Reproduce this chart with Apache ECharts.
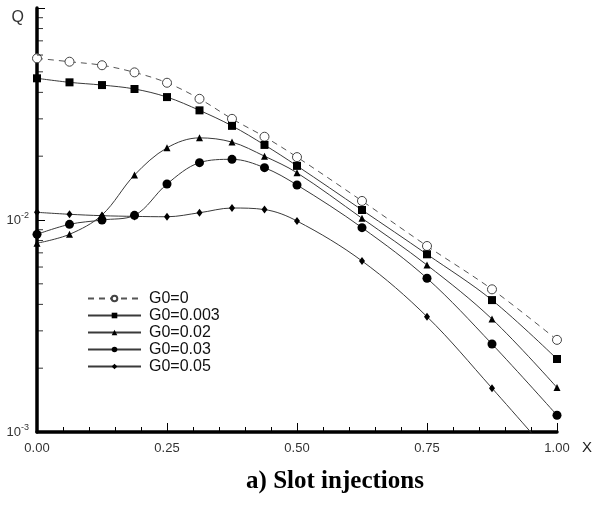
<!DOCTYPE html>
<html>
<head>
<meta charset="utf-8">
<script src="https://cdn.jsdelivr.net/npm/echarts@6/dist/echarts.min.js"></script>
<style>html,body{margin:0;padding:0;background:#fff}#c{width:595px;height:506px}</style>
</head>
<body>
<div id="c"></div>
<script>
var xValues = [0, 0.0625, 0.125, 0.1875, 0.25, 0.3125, 0.375, 0.4375, 0.5, 0.625, 0.75, 0.875, 1.0];
var seriesNames = ['G0=0', 'G0=0.003', 'G0=0.02', 'G0=0.03', 'G0=0.05'];
var qG0_0     = [0.0579, 0.0558, 0.0537, 0.0497, 0.0444, 0.0373, 0.0300, 0.0247, 0.0198, 0.0123, 0.00754, 0.00471, 0.00272];
var qG0_0003  = [0.0466, 0.0446, 0.0433, 0.0415, 0.0380, 0.0329, 0.0278, 0.0226, 0.0180, 0.01115, 0.00689, 0.00419, 0.00221];
var qG0_002   = [0.00777, 0.00856, 0.01056, 0.0163, 0.0219, 0.0244, 0.0233, 0.0200, 0.0167, 0.01019, 0.00613, 0.00341, 0.00162];
var qG0_003   = [0.00856, 0.00954, 0.0100, 0.01052, 0.01478, 0.01864, 0.01933, 0.01765, 0.01463, 0.00920, 0.00531, 0.00260, 0.00120];
var qG0_005   = [0.01087, 0.01064, 0.01048, 0.01040, 0.01036, 0.01082, 0.01139, 0.01120, 0.00989, 0.00641, 0.00350, 0.00161, 0.00072];
var xTickLabels = ['0.00', '0.25', '0.50', '0.75', '1.00'];
var yMinorTickValues = [0.002,0.003,0.004,0.005,0.006,0.007,0.008,0.009,0.02,0.03,0.04,0.05,0.06,0.07,0.08,0.09];

function pairs(ys){ return xValues.map(function(x,i){ return [x, ys[i]]; }); }

var lineColor = '#3a3a3a';
function mk(name, ys, symbol, size, extra){
  var s = {
    name: name, type: 'line', data: pairs(ys), smooth: 0.35,
    symbol: symbol, symbolSize: size, showAllSymbol: true,
    lineStyle: { color: lineColor, width: 1 },
    itemStyle: { color: '#000' },
    clip: true, z: 3
  };
  if (extra) extra(s);
  return s;
}

var series = [
  mk(seriesNames[0], qG0_0, 'circle', 9, function(s){
    s.lineStyle = { color: '#555', width: 1, type: [6,5] };
    s.itemStyle = { color: '#fff', borderColor: '#444', borderWidth: 1 };
  }),
  mk(seriesNames[1], qG0_0003, 'rect', 8),
  mk(seriesNames[2], qG0_002, 'triangle', 7),
  mk(seriesNames[3], qG0_003, 'circle', 9),
  mk(seriesNames[4], qG0_005, 'diamond', [6,8]),
  {
    name: 'minorTicks', type: 'scatter', silent: true, clip: false, z: 5,
    data: yMinorTickValues.map(function(v){ return [0, v]; }),
    symbol: 'rect', symbolSize: [6, 1], symbolOffset: [3, 0],
    itemStyle: { color: '#000' }
  }
];

var chart = echarts.init(document.getElementById('c'), null, { renderer: 'canvas' });
chart.setOption({
  animation: false,
  backgroundColor: '#fff',
  grid: { left: 37, right: 37, top: 8, bottom: 74, containLabel: false },
  title: {
    text: 'a) Slot injections', left: 330, top: 464, textAlign: 'center',
    textStyle: { fontFamily: 'Liberation Serif', fontWeight: 'bold', fontSize: 25, color: '#000' }
  },
  legend: {
    data: seriesNames, orient: 'vertical', left: 87, top: 290, padding: 0,
    itemWidth: 53, itemHeight: 7, itemGap: 0,
    textStyle: { fontFamily: 'Liberation Sans', fontSize: 16, lineHeight: 17, color: '#111', padding: [0,0,0,3] }
  },
  xAxis: {
    type: 'value', min: 0, max: 1, interval: 0.25,
    name: 'X', nameLocation: 'end', nameGap: 25,
    nameTextStyle: { fontFamily: 'Liberation Sans', fontSize: 15, color: '#222', verticalAlign: 'top', padding: [8,0,0,0] },
    axisLine: { show: true, lineStyle: { color: '#000', width: 3.5 } },
    axisTick: { show: true, inside: true, length: 9, lineStyle: { color: '#000', width: 1 } },
    minorTick: { show: true, splitNumber: 5, length: 5, lineStyle: { color: '#000', width: 1 } },
    axisLabel: { margin: 10, fontFamily: 'Liberation Sans', fontSize: 13, color: '#333',
      formatter: function(v){ var i = Math.round(v / 0.25); return xTickLabels[i] || ''; } },
    splitLine: { show: false }
  },
  yAxis: {
    type: 'log', logBase: 10, min: 0.001, max: 0.1,
    name: 'Q', nameLocation: 'end', nameGap: -2,
    nameTextStyle: { fontFamily: 'Liberation Sans', fontSize: 16, color: '#333', align: 'right', verticalAlign: 'top', padding: [0,13,0,0] },
    axisLine: { show: true, onZero: false, lineStyle: { color: '#000', width: 3.5 } },
    axisTick: { show: true, inside: true, length: 8, lineStyle: { color: '#000', width: 1 } },
    axisLabel: {
      margin: 8,
      formatter: function(v){
        var e = Math.round(Math.log10(v));
        if (e >= -1) return '';
        return '{b|10}{s|' + e + '}';
      },
      rich: {
        b: { fontFamily: 'Liberation Sans', fontSize: 13, color: '#333' },
        s: { fontFamily: 'Liberation Sans', fontSize: 9, color: '#333', verticalAlign: 'bottom', padding: [0,0,8,0] }
      }
    },
    splitLine: { show: false }
  },
  series: series
});
</script>
</body>
</html>
